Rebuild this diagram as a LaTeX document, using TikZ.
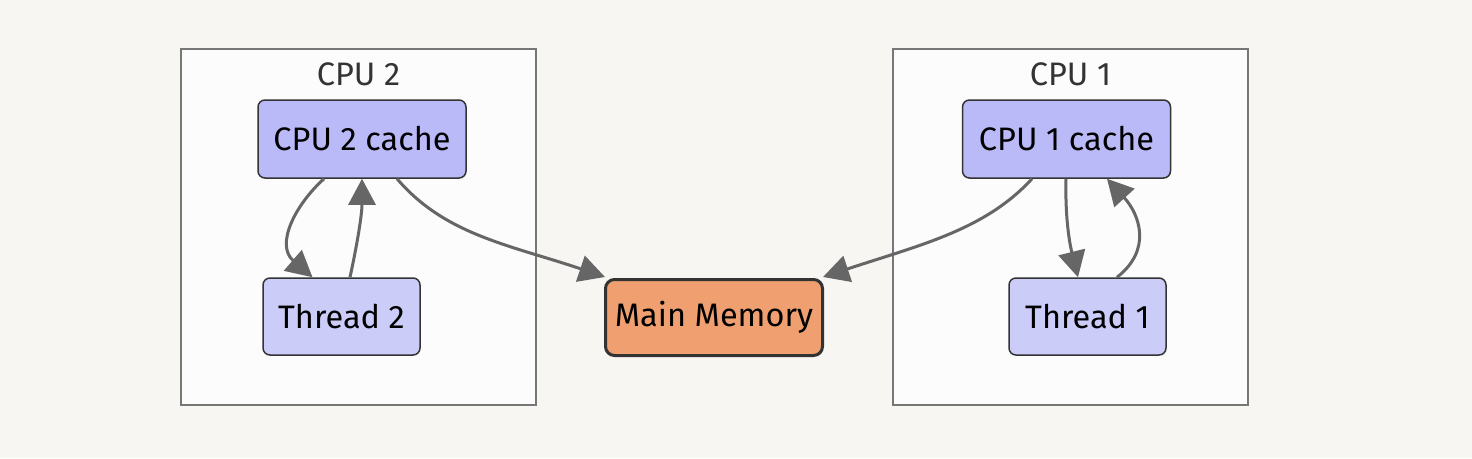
\documentclass[tikz,border=0pt]{standalone}
\usepackage{fontspec}
\setmainfont{Fira Sans}
\usetikzlibrary{arrows.meta}
\definecolor{bg}{HTML}{F7F6F3}
\definecolor{clfill}{HTML}{FCFCFC}
\definecolor{clline}{HTML}{777777}
\definecolor{cachefill}{HTML}{BBBAF8}
\definecolor{threadfill}{HTML}{CCCCF9}
\definecolor{memfill}{HTML}{F0A070}
\definecolor{edge}{HTML}{666666}
\definecolor{nodeline}{HTML}{333333}
\tikzset{
  lbl/.style={font=\fontsize{32.5}{36}\selectfont},
  cachebox/.style={lbl, draw=nodeline, fill=cachefill, line width=1.5pt, rounded corners=7pt, minimum width=208pt, minimum height=78pt, inner sep=0pt},
  threadbox/.style={lbl, draw=nodeline, fill=threadfill, line width=1.5pt, rounded corners=7pt, minimum width=157pt, minimum height=77pt, inner sep=0pt},
  membox/.style={lbl, draw=nodeline, fill=memfill, line width=3pt, rounded corners=9pt, minimum width=217pt, minimum height=76pt, inner sep=0pt},
  title/.style={lbl, text=nodeline, inner sep=0pt},
  cluster/.style={draw=clline, fill=clfill, line width=1.5pt},
  conn/.style={draw=edge, line width=3pt, -{Triangle[length=26pt,width=27pt]}}
}
\begin{document}
\begin{tikzpicture}[x=1pt,y=-1pt]
\path[fill=bg] (0,0) rectangle (1472,458);
\useasboundingbox (0,0) rectangle (1472,458);
% clusters
\path[cluster] (181,49) rectangle (536,405);
\path[cluster] (893,49) rectangle (1248,405);
\node[title] (cpu2) at (358.5,74) {CPU 2};
\node[title] (cpu1) at (1070.5,74) {CPU 1};
% nodes
\node[cachebox] (c2) at (362,139) {CPU 2 cache};
\node[threadbox] (t2) at (341.5,316.5) {Thread 2};
\node[membox] (mm) at (714,317.5) {Main Memory};
\node[cachebox] (c1) at (1066.5,139) {CPU 1 cache};
\node[threadbox] (t1) at (1087.5,316.5) {Thread 1};
% edges
\draw[conn] ([xshift=-38pt]c2.south) .. controls (295,205) and (275,245) .. ([xshift=-29pt]t2.north);
\draw[conn] ([xshift=8.5pt]t2.north) .. controls (357,245) and (362,215) .. (c2.south);
\draw[conn] ([xshift=35pt]c2.south) .. controls (445,235) and (510,245) .. ([xshift=1pt,yshift=1pt]mm.north west);
\draw[conn] ([xshift=-34.5pt]c1.south) .. controls (985,230) and (920,245) .. ([xshift=-1pt,yshift=1pt]mm.north east);
\draw[conn] ([xshift=-0.5pt]c1.south) .. controls (1065,220) and (1070,245) .. ([xshift=-9.5pt]t1.north);
\draw[conn] ([xshift=29.5pt]t1.north) .. controls (1152,250) and (1140,215) .. ([xshift=40.5pt]c1.south);
\end{tikzpicture}
\end{document}
